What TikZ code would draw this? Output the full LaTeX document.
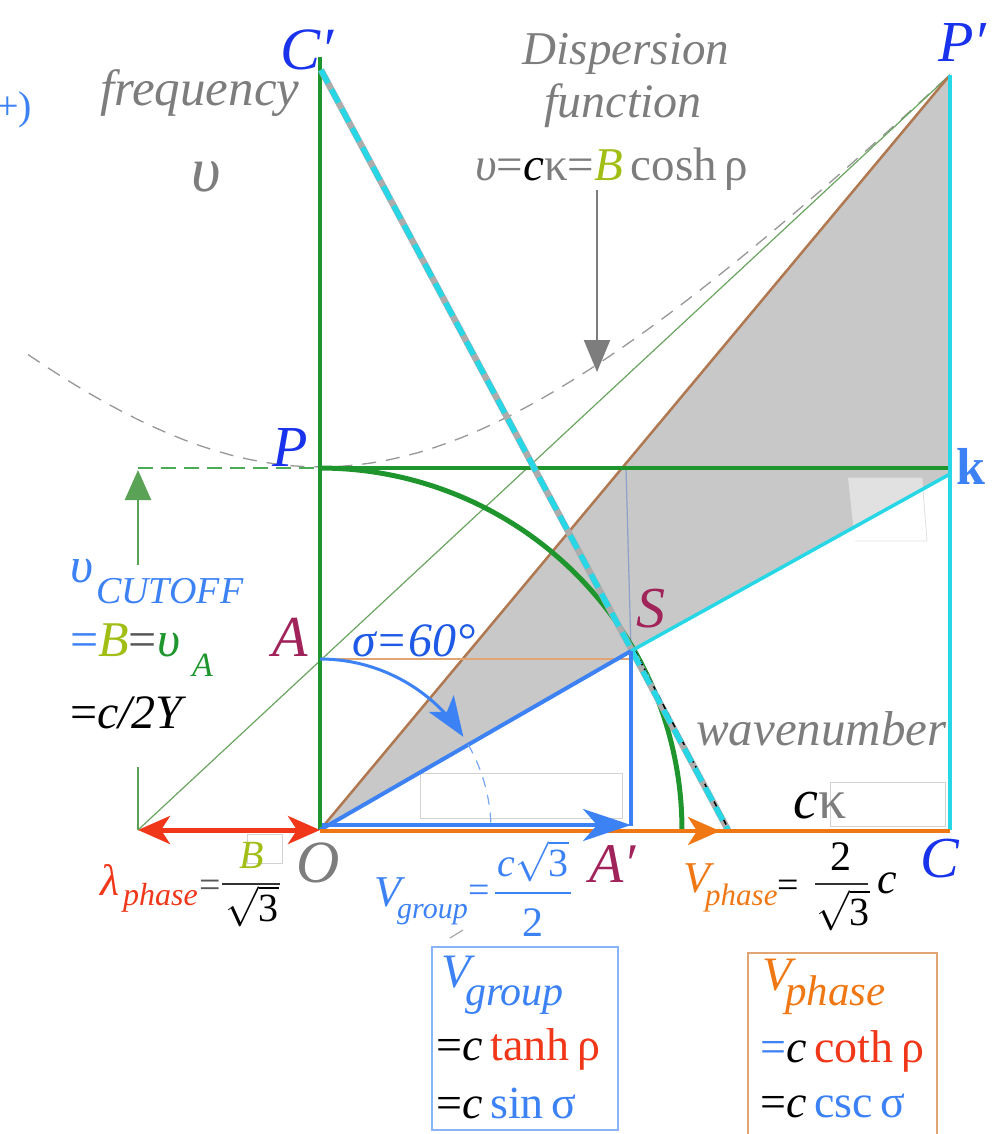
\RequirePackage{fix-cm}
\documentclass[tikz,border=0pt]{standalone}
\usepackage{fontspec}
\setmainfont{Liberation Serif}
\usetikzlibrary{arrows.meta}
\definecolor{dgreen}{RGB}{30,150,45}
\definecolor{lgreen}{RGB}{105,165,95}
\definecolor{cyanL}{RGB}{40,215,230}
\definecolor{blueL}{RGB}{60,130,245}
\definecolor{blueT}{RGB}{25,50,235}
\definecolor{blueS}{RGB}{30,90,230}
\definecolor{maroonL}{RGB}{160,35,90}
\definecolor{orangeL}{RGB}{240,120,20}
\definecolor{redL}{RGB}{240,55,25}
\definecolor{brownL}{RGB}{175,120,80}
\definecolor{grayT}{RGB}{125,125,125}
\definecolor{bgreen}{RGB}{160,190,20}
\definecolor{shadeG}{RGB}{200,200,200}
\definecolor{lightQ}{RGB}{225,225,225}
\definecolor{peach}{RGB}{225,165,115}
\definecolor{steelL}{RGB}{140,160,200}
\newcommand\fsz[1]{\fontsize{#1}{#1}\selectfont}
\newcommand\rtthree{$\sqrt{\mbox{3}}$}
\begin{document}
\begin{tikzpicture}[x=1pt,y=-1pt,
  lbl/.style={inner sep=0pt, anchor=base west},
  clbl/.style={inner sep=0pt, anchor=base},
  fracbar/.style={line width=2.6pt},
  gline/.style={dgreen, line width=3.5pt},
  cline/.style={cyanL, line width=3.5pt},
  bline/.style={blueL, line width=4pt},
  artbox/.style={gray!35, line width=1pt}]
\useasboundingbox (0,0) rectangle (996,1134);
% coordinates
\coordinate (O) at (320,830);
\coordinate (Cp) at (320,57);
\coordinate (P) at (320,468);
\coordinate (A) at (320,659);
\coordinate (S) at (631,651);
\coordinate (Ap) at (631,826);
\coordinate (C) at (950,830);
\coordinate (K) at (950,468);
\coordinate (Kc) at (950,474);
\coordinate (Pp) at (950,75);
\coordinate (L) at (138,830);
\coordinate (Lt) at (138,468);
\coordinate (T0) at (321,70);
\coordinate (T1) at (728,830);
\coordinate (Sv) at (626,468);
\coordinate (AS) at (631,659);
\coordinate (Or0) at (320,831);
\coordinate (Or1) at (720,831);
\coordinate (Or2) at (950,831);
\coordinate (Bl0) at (322,825);
\coordinate (Bl1) at (631,825);
\coordinate (G1a) at (138,565);
\coordinate (G1b) at (138,470);
\coordinate (G2a) at (138,767);
\coordinate (G3) at (597,190);
\coordinate (G4) at (597,372);
% shaded region
\fill[shadeG] (O) -- (Pp) -- (Kc) -- (S) -- cycle;
\fill[lightQ] (848,478) -- (922,478) -- (923,489.4) -- (853.4,527.2) -- cycle;
\draw[gray!25, line width=0.8pt] (848,478) -- (922,478) -- (927,541) -- (855,541);
% faint text boxes
\draw[artbox] (420,773) rectangle (622,818);
\draw[artbox] (830,782) rectangle (945,826);
\draw[artbox] (247,834) rectangle (282,863);
% dispersion hyperbola
\draw[grayT!80, line width=1.3pt, dash pattern=on 14pt off 10pt]
  plot[domain=28:950, samples=60] (\x, {830-100*sqrt(13.18+(0.01051*(\x-320))^2)});
% thin green asymptote line
\draw[lgreen, line width=1.2pt] (L) -- (Pp);
% brown line
\draw[brownL, line width=2.5pt] (O) -- (Pp);
% thin steel vertical
\draw[steelL, line width=1.2pt] (Sv) -- (S);
% orange thin horizontal
\draw[peach, line width=1.5pt] (A) -- (AS);
% green axes
\draw[gline] (Cp) -- (O);
\draw[gline] (P) -- (K);
\draw[dgreen!80, line width=2.2pt, dash pattern=on 15pt off 8pt] (Lt) -- (P);
% green circle arc
\draw[dgreen, line width=5pt] plot[domain=0:90, samples=40, smooth] ({320+362*sin(\x)}, {830-362*cos(\x)});
% tangent line
\draw[gray!65, line width=6.5pt] (T0) -- (T1);
\draw[black, line width=1.5pt, dash pattern=on 6pt off 4pt] ([xshift=4pt]S) -- ([xshift=1pt]T1);
\draw[cyanL, line width=5.5pt, dash pattern=on 15pt off 7pt] (T0) -- (T1);
% cyan lines
\draw[cline] (Pp) -- (C);
\draw[cline] (Kc) -- (S);
% blue lines
\draw[bline] (O) -- (S);
\draw[bline] (S) -- (Ap);
% orange axis and arrow
\draw[orangeL, line width=3.5pt] (Or0) -- (Or2);
\draw[orangeL, line width=4pt, -{Stealth[length=32pt,width=28pt,inset=9pt]}] (Or0) -- (Or1);
% blue group arrow
\draw[blueL, line width=4.5pt, -{Stealth[length=48pt,width=32pt,inset=14pt]}] (Bl0) -- (Bl1);
% red double arrow
\draw[redL, line width=5pt, {Stealth[length=32pt,width=28pt,inset=9pt]}-{Stealth[length=32pt,width=28pt,inset=9pt]}] (L) -- (O);
% blue curved arrow sigma
\draw[blueL, line width=3pt, -{Stealth[length=40pt,width=30pt,inset=10pt]}]
  plot[domain=0:57, samples=30, smooth] ({320+171*sin(\x)}, {830-171*cos(\x)});
\draw[blueL!70, line width=1.2pt, dash pattern=on 10pt off 8pt]
  plot[domain=60:90, samples=15, smooth] ({320+171*sin(\x)}, {830-171*cos(\x)});
% left green arrow
\draw[lgreen!80!dgreen, line width=2.5pt, -{Triangle[length=30pt,width=26pt]}] (G1a) -- (G1b);
\draw[lgreen!80!dgreen, line width=2.5pt] (G2a) -- (L);
% gray dispersion arrow
\draw[grayT, line width=2.2pt, -{Triangle[length=32pt,width=26pt]}] (G3) -- (G4);
% ---------- texts ----------
\node[lbl, text=blueL, font=\fsz{40}] (plus) at (-4,120) {+)};
\node[lbl, text=grayT, font=\fsz{51}\itshape] (freq) at (100,106) {frequency};
\node[clbl, text=grayT, font=\fsz{64}\itshape] (ups) at (206,192) {υ};
\node[lbl, text=blueT, font=\fsz{60}\itshape] (lCp) at (280,70) {C′};
\node[clbl, text=grayT, font=\fsz{47}\itshape] (disp) at (626,65) {Dispersion};
\node[clbl, text=grayT, font=\fsz{48}\itshape] (func) at (623,118) {function};
\node[lbl, font=\fsz{47}] (dform) at (475,181) {\textcolor{grayT}{\textit{υ}=}\textit{c}\textcolor{grayT}{κ=}\textcolor{bgreen}{\textit{B}}\,\textcolor{grayT}{cosh\,ρ}};
\node[lbl, text=blueT, font=\fsz{58}\itshape] (lPp) at (938,62) {P′};
\node[lbl, text=blueT, font=\fsz{58}\itshape] (lP) at (272,466) {P};
\node[lbl, text=blueL, font=\fsz{52}\bfseries] (lk) at (956,484) {k};
\node[lbl, text=maroonL, font=\fsz{58}\itshape] (lA) at (272,656) {A};
\node[lbl, text=blueS, font=\fsz{48}\itshape] (sig) at (352,656) {σ=60°};
\node[lbl, text=maroonL, font=\fsz{58}\itshape] (lS) at (636,627) {S};
\node[lbl, text=grayT, font=\fsz{49}\itshape] (wave) at (696,745) {wavenumber};
\node[lbl, font=\fsz{56}] (ck) at (793,818) {\textit{c}\textcolor{grayT}{κ}};
\node[lbl, text=blueT, font=\fsz{58}\itshape] (lC) at (920,877) {C};
\node[lbl, text=grayT, font=\fsz{60}\itshape] (lO) at (296,882) {O};
\node[lbl, text=maroonL, font=\fsz{56}\itshape] (lAp) at (589,882) {A′};
% lambda phase
\node[lbl, text=redL, font=\fsz{44}\itshape] (lam) at (100,895) {λ};
\node[lbl, text=redL, font=\fsz{32}\itshape] (lamsub) at (123,905) {phase};
\node[lbl, text=grayT!70!black, font=\fsz{38}] (lameq) at (199,897) {=};
\node[clbl, text=bgreen, font=\fsz{40}\itshape] (lamnum) at (252,868) {B};
\node[clbl, font=\fsz{40}] (lamden) at (252,921) {\rtthree};
\draw[fracbar, gray!40!black] (222,884) -- (280,884);
% cutoff
\node[lbl, text=blueL, font=\fsz{50}\itshape] (cut) at (70,582) {υ};
\node[lbl, text=blueL, font=\fsz{38}\itshape] (cutsub) at (96,603) {CUTOFF};
\node[lbl, font=\fsz{50}] (cut2) at (70,656) {\textcolor{blueL}{=}\textcolor{bgreen}{\textit{B}}\textcolor{grayT!70!black}{=}\textcolor{dgreen}{\textit{υ}}};
\node[lbl, text=dgreen, font=\fsz{34}\itshape] (cut2sub) at (192,676) {A};
\node[lbl, font=\fsz{48}] (cut3) at (70,728) {=\textit{c/2Y}};
% V group label
\node[lbl, text=blueL, font=\fsz{44}\itshape] (vg) at (374,906) {V};
\node[lbl, text=blueL, font=\fsz{30}\itshape] (vgsub) at (397,918) {group};
\node[lbl, text=blueL, font=\fsz{38}] (vgeq) at (468,902) {=};
\node[clbl, text=blueL, font=\fsz{40}] (vgnum) at (533,876) {\textit{c}\rtthree};
\node[clbl, text=blueL, font=\fsz{42}] (vgden) at (533,936) {2};
\draw[fracbar, blueL] (495,893) -- (571,893);
\draw[gray!70, line width=1.2pt] (450,938) -- (463,930);
% V phase label
\node[lbl, text=orangeL, font=\fsz{44}\itshape] (vp) at (683,892) {V};
\node[lbl, text=orangeL, font=\fsz{31}\itshape] (vpsub) at (705,905) {phase};
\node[lbl, font=\fsz{38}] (vpeq) at (777,897) {=};
\node[clbl, font=\fsz{42}] (vpnum) at (841,870) {2};
\node[clbl, font=\fsz{40}] (vpden) at (843,925) {\rtthree};
\draw[fracbar, black!80] (815,884) -- (868,884);
\node[lbl, font=\fsz{44}\itshape] (vpc) at (877,893) {c};
% box 1
\draw[blueL!60, line width=1.5pt] (432,947) rectangle (618,1130);
\node[lbl, text=blueL, font=\fsz{48}\itshape] (b1v) at (441,987) {V};
\node[lbl, text=blueL, font=\fsz{42}\itshape] (b1s) at (465,1005) {group};
\node[lbl, font=\fsz{46}] (b1l1) at (436,1060) {=\textit{c}\,\textcolor{redL}{tanh\,ρ}};
\node[lbl, font=\fsz{46}] (b1l2) at (436,1118) {=\textit{c}\,\textcolor{blueL}{sin\,σ}};
% box 2
\draw[peach, line width=1.5pt] (748,953) rectangle (937,1140);
\node[lbl, text=orangeL, font=\fsz{48}\itshape] (b2v) at (762,990) {V};
\node[lbl, text=orangeL, font=\fsz{43}\itshape] (b2s) at (785,1005) {phase};
\node[lbl, font=\fsz{46}] (b2l1) at (760,1062) {\textcolor{blueL}{=}\textit{c}\,\textcolor{redL}{coth\,ρ}};
\node[lbl, font=\fsz{46}] (b2l2) at (760,1117) {=\textit{c}\,\textcolor{blueL}{csc\,σ}};
\end{tikzpicture}
\end{document}
